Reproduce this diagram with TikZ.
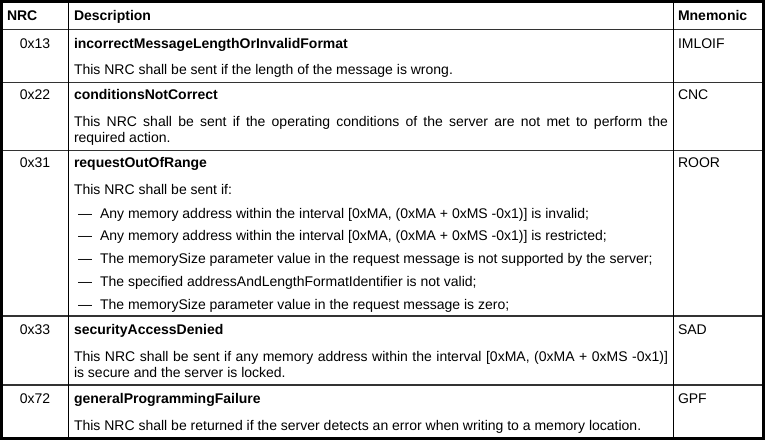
\documentclass[tikz,border=0pt]{standalone}
\usepackage{fontspec}
\setmainfont{Liberation Sans}
\usetikzlibrary{positioning}

\tikzset{
  textcell/.style={anchor=base west, inner sep=0pt, outer sep=0pt, font=\fontsize{14}{16}\selectfont},
  nrccell/.style={textcell, anchor=base},
  namecell/.style={textcell, font=\fontsize{14}{16}\selectfont\bfseries},
  desccell/.style={textcell, text width=594pt, align=justify},
  rowline/.style={draw=black!80, line width=1.4pt},
  colline/.style={draw=black, line width=1.1pt},
  frameline/.style={draw=black, line width=2.6pt},
}

\begin{document}
\begin{tikzpicture}[x=1pt, y=-1pt]
  \useasboundingbox (0,0) rectangle (768,441);

  % grid of the table
  \draw[rowline] (1.5,29.5) -- (763.5,29.5);
  \draw[rowline] (1.5,82.5) -- (763.5,82.5);
  \draw[rowline] (1.5,150.5) -- (763.5,150.5);
  \draw[rowline] (1.5,316) -- (763.5,316);
  \draw[rowline] (1.5,385) -- (763.5,385);
  \draw[colline] (68.5,1.5) -- (68.5,438.5);
  \draw[colline] (673.3,1.5) -- (673.3,438.5);
  \draw[frameline] (1.5,1.3) rectangle (763.5,438.5);

  % header
  \node[namecell] (hNRC) at (7,20.5) {NRC};
  \node[namecell] (hDesc) at (74,20.5) {Description};
  \node[namecell] (hMn) at (678,20.5) {Mnemonic};

  % 0x13
  \node[nrccell] (nrc13) at (35,49) {0x13};
  \node[namecell] (name13) at (74,49) {incorrectMessageLengthOrInvalidFormat};
  \node[desccell] (desc13) at (74,75) {This NRC shall be sent if the length of the message is wrong.};
  \node[textcell] (mn13) at (678,49) {IMLOIF};

  % 0x22
  \node[nrccell] (nrc22) at (35,100) {0x22};
  \node[namecell] (name22) at (74,100) {conditionsNotCorrect};
  \node[desccell] (desc22) at (74,127) {This NRC shall be sent if the operating conditions of the server are not met to perform the\linebreak required action.};
  \node[textcell] (mn22) at (678,100) {CNC};

  % 0x31
  \node[nrccell] (nrc31) at (35,167) {0x31};
  \node[namecell] (name31) at (74,167) {requestOutOfRange};
  \node[desccell] (desc31) at (74,194) {This NRC shall be sent if:};
  \node[textcell] (mn31) at (678,167) {ROOR};
  \foreach \txt [count=\i] in {
      {Any memory address within the interval [0xMA, (0xMA + 0xMS -0x1)] is invalid;},
      {Any memory address within the interval [0xMA, (0xMA + 0xMS -0x1)] is restricted;},
      {The memorySize parameter value in the request message is not supported by the server;},
      {The specified addressAndLengthFormatIdentifier is not valid;},
      {The memorySize parameter value in the request message is zero;}} {
    \node[textcell] (dash\i) at (78,{218+(\i-1)*22.75}) {—};
    \node[textcell] (item\i) at (100,{218+(\i-1)*22.75}) {\txt};
  }

  % 0x33
  \node[nrccell] (nrc33) at (35,334) {0x33};
  \node[namecell] (name33) at (74,334) {securityAccessDenied};
  \node[desccell] (desc33) at (74,361) {This NRC shall be sent if any memory address within the interval [0xMA, (0xMA + 0xMS -0x1)]\linebreak is secure and the server is locked.};
  \node[textcell] (mn33) at (678,334) {SAD};

  % 0x72
  \node[nrccell] (nrc72) at (35,403) {0x72};
  \node[namecell] (name72) at (74,403) {generalProgrammingFailure};
  \node[desccell] (desc72) at (74,430) {This NRC shall be returned if the server detects an error when writing to a memory location.};
  \node[textcell] (mn72) at (678,403) {GPF};
\end{tikzpicture}
\end{document}
